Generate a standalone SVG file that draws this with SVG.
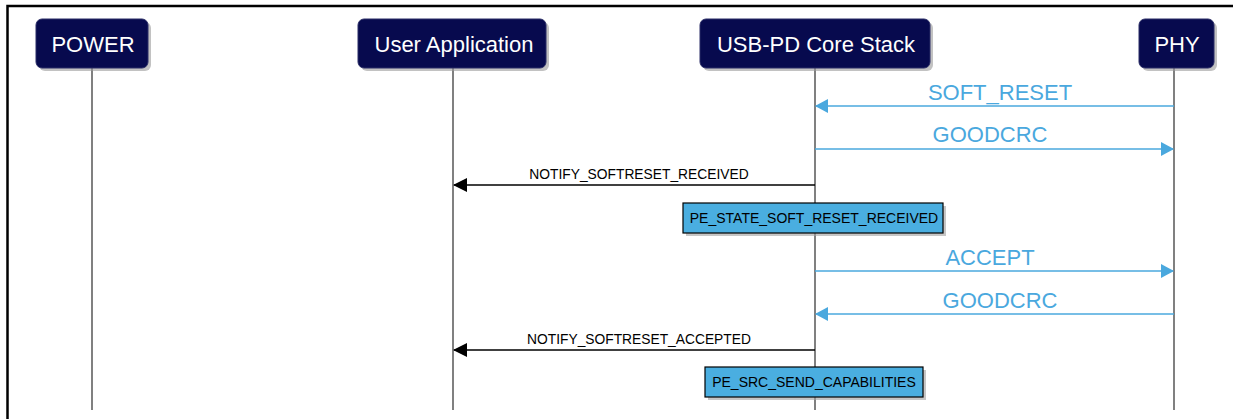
<svg xmlns="http://www.w3.org/2000/svg" width="1233" height="419" viewBox="0 0 1233 419">
<style>
.frame{stroke:#000;stroke-width:2.5;fill:none}
.node rect.b{fill:#070a4e;stroke:#2a2d66;stroke-width:1}
.node rect.s{fill:#9a9a9a;opacity:0.6}
.node text{fill:#fff;font-family:"Liberation Sans",Arial,sans-serif;font-size:22px;text-anchor:middle}
.life{stroke:#808080;stroke-width:2}
.blue{stroke:#4aa8de;stroke-width:1.3;fill:none}
.black{stroke:#000;stroke-width:1.3;fill:none}
.bl{fill:#4aa8de;font-family:"Liberation Sans",Arial,sans-serif;font-size:22px;text-anchor:middle}
.bk{fill:#000;font-family:"Liberation Sans",Arial,sans-serif;font-size:13.8px;text-anchor:middle}
.state rect.b{fill:#4aaee0;stroke:#000;stroke-width:1.2}
.state rect.s{fill:#a0a0a0;opacity:0.6}
.state text{fill:#000;font-family:"Liberation Sans",Arial,sans-serif;font-size:14px;text-anchor:middle}
</style>
<defs>
<marker id="ab" markerWidth="13" markerHeight="14" refX="12" refY="7" orient="auto" markerUnits="userSpaceOnUse"><path d="M0,0 L13,7 L0,14 Z" fill="#4aa8de"/></marker>
<marker id="ak" markerWidth="14" markerHeight="14" refX="13" refY="7" orient="auto" markerUnits="userSpaceOnUse"><path d="M0,0 L14,7 L0,14 Z" fill="#000"/></marker>
</defs>
<rect width="1233" height="419" fill="#fff"/>
<path class="frame" d="M7.5,419 L7.5,6 L1233,6"/>
<g id="lifelines">
<line class="life" x1="92" y1="68" x2="92" y2="410"/>
<line class="life" x1="453" y1="68" x2="453" y2="410"/>
<line class="life" x1="815" y1="68" x2="815" y2="410"/>
<line class="life" x1="1174" y1="68" x2="1174" y2="410"/>
</g>
<g id="power" class="node"><rect class="s" x="39" y="22" width="112" height="49" rx="6"/><rect class="b" x="36" y="19" width="112" height="49" rx="6"/><text x="93" y="52">POWER</text></g>
<g id="userapp" class="node"><rect class="s" x="361" y="22" width="188" height="49" rx="6"/><rect class="b" x="358" y="19" width="188" height="49" rx="6"/><text x="454" y="52">User Application</text></g>
<g id="core" class="node"><rect class="s" x="703" y="22" width="230" height="49" rx="6"/><rect class="b" x="700" y="19" width="230" height="49" rx="6"/><text x="816" y="52">USB-PD Core Stack</text></g>
<g id="phy" class="node"><rect class="s" x="1142" y="22" width="75" height="49" rx="6"/><rect class="b" x="1139" y="19" width="75" height="49" rx="6"/><text x="1177" y="52">PHY</text></g>
<g id="connectors">
<line class="blue" x1="1174" y1="106" x2="816" y2="106" marker-end="url(#ab)"/>
<text class="bl" x="1000" y="100">SOFT_RESET</text>
<line class="blue" x1="815" y1="149" x2="1173" y2="149" marker-end="url(#ab)"/>
<text class="bl" x="990" y="142">GOODCRC</text>
<line class="black" x1="815" y1="185" x2="454" y2="185" marker-end="url(#ak)"/>
<text class="bk" x="639" y="179">NOTIFY_SOFTRESET_RECEIVED</text>
<line class="blue" x1="815" y1="271" x2="1173" y2="271" marker-end="url(#ab)"/>
<text class="bl" x="990" y="265">ACCEPT</text>
<line class="blue" x1="1174" y1="314" x2="816" y2="314" marker-end="url(#ab)"/>
<text class="bl" x="1000" y="308">GOODCRC</text>
<line class="black" x1="815" y1="350" x2="454" y2="350" marker-end="url(#ak)"/>
<text class="bk" x="639" y="344">NOTIFY_SOFTRESET_ACCEPTED</text>
</g>
<g id="state1" class="state"><rect class="s" x="686" y="206" width="260" height="30"/><rect class="b" x="683" y="203" width="260" height="30"/><text x="814" y="223">PE_STATE_SOFT_RESET_RECEIVED</text></g>
<g id="state2" class="state"><rect class="s" x="708" y="370" width="218" height="30"/><rect class="b" x="705" y="367" width="218" height="30"/><text x="814" y="387">PE_SRC_SEND_CAPABILITIES</text></g>
</svg>
